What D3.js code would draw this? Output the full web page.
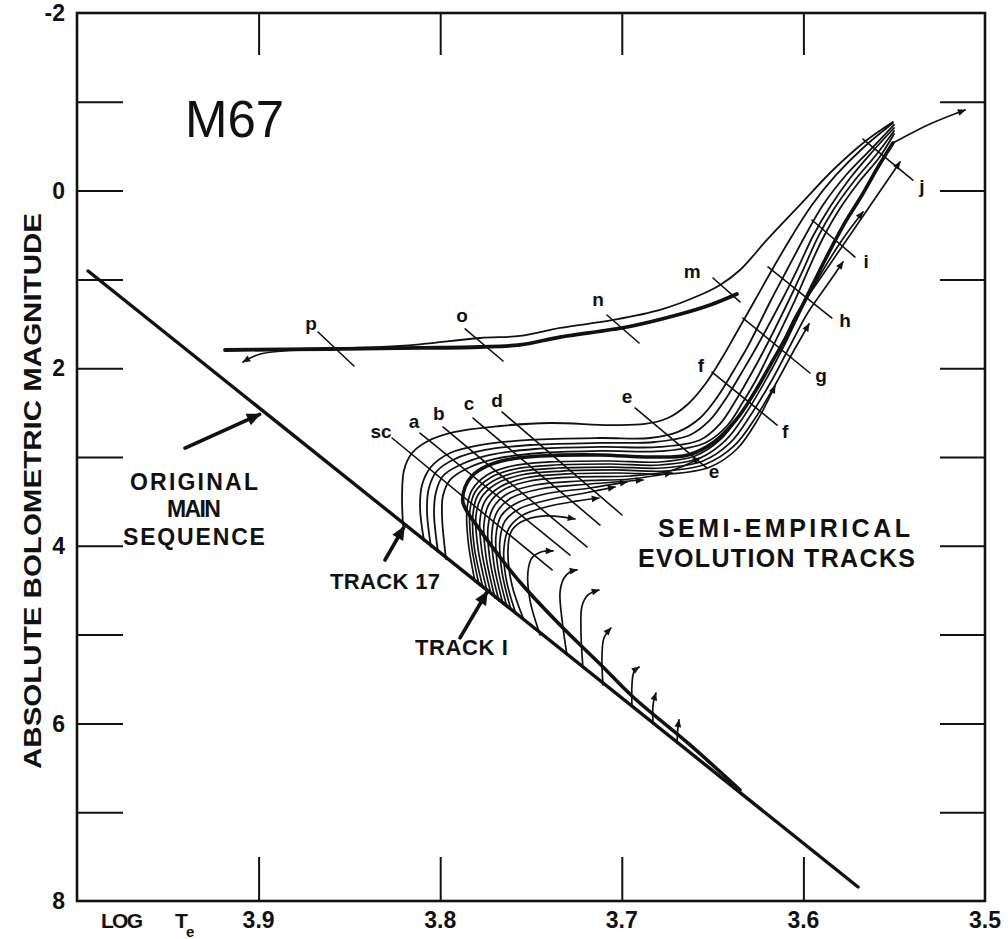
<!DOCTYPE html>
<html><head><meta charset="utf-8">
<script src="https://cdn.jsdelivr.net/npm/d3@7"></script>
<style>
body{margin:0;background:#fff}
text{font-family:"Liberation Sans",Arial,sans-serif;fill:#111}
</style>
</head><body>
<svg id="chart" width="1008" height="939"></svg>
<script>
// ---------- axis data ----------
const xDomain=[4.0,3.5];
const yDomain=[-2,8];
const xTickValues=[3.9,3.8,3.7,3.6];
const xTickLabels=["3.9","3.8","3.7","3.6","3.5"];
const xTickLabelValues=[3.9,3.8,3.7,3.6,3.5];
const yTickValues=[-1,0,1,2,3,4,5,6,7];
const yTickLabels=["-2","0","2","4","6","8"];
const yTickLabelValues=[-2,0,2,4,6,8];

// ---------- curves [log Te, Mbol] ----------
const zams=[[3.9939,0.905],[3.5699,7.842]];
const hbThick=[[3.9185,1.795],[3.8607,1.784],[3.8111,1.772],[3.7781,1.761],[3.7561,1.738],[3.7340,1.649],[3.6971,1.536],[3.6696,1.401],[3.6514,1.288],[3.6366,1.164]];
const mCurve=[[3.8772,1.784],[3.8221,1.750],[3.7781,1.660],[3.7561,1.637],[3.7340,1.547],[3.7048,1.457],[3.6790,1.344],[3.6569,1.176],[3.6459,1.063],[3.6349,0.894],[3.6201,0.556],[3.6019,0.162],[3.5837,-0.232],[3.5650,-0.570],[3.5507,-0.773]];
const pArrow=[[3.8740,1.795],[3.8990,1.840],[3.9086,1.930]];
const track1=[[3.6349,6.750],[3.6624,6.243],[3.6938,5.703],[3.7120,5.331],[3.7340,4.892],[3.7561,4.408],[3.7671,4.126],[3.7781,3.822],[3.7874,3.518],[3.7863,3.338],[3.7825,3.214],[3.7742,3.101],[3.7638,3.034],[3.7450,2.989],[3.7120,2.977],[3.6845,3.000],[3.6635,2.977],[3.6492,2.831],[3.6371,2.583],[3.6261,2.245],[3.6167,1.908],[3.6079,1.592],[3.5980,1.187],[3.5881,0.781],[3.5782,0.399],[3.5677,0.050],[3.5589,-0.266],[3.5507,-0.536]];
const track1Ext=[[3.5507,-0.536],[3.5303,-0.750],[3.5110,-0.908]];
const trackSC=[[3.8205,3.766],[3.8210,3.428],[3.8199,3.146],[3.8155,2.955],[3.8067,2.820],[3.7919,2.718],[3.7671,2.651],[3.7395,2.617],[3.7065,2.640],[3.6872,2.628],[3.6746,2.561],[3.6635,2.403],[3.6536,2.167],[3.6448,1.885],[3.6360,1.570],[3.6266,1.232],[3.6167,0.872],[3.6063,0.511],[3.5953,0.162],[3.5820,-0.176],[3.5672,-0.480],[3.5507,-0.761]];
const trackU2=[[3.8089,3.946],[3.8111,3.574],[3.8100,3.315],[3.8051,3.113],[3.7946,2.955],[3.7781,2.865],[3.7506,2.808],[3.7120,2.786],[3.6845,2.786],[3.6691,2.718],[3.6569,2.561],[3.6470,2.313],[3.6382,2.020],[3.6305,1.750],[3.6178,1.232],[3.6085,0.872],[3.5991,0.511],[3.5892,0.162],[3.5765,-0.176],[3.5633,-0.457],[3.5501,-0.739]];
const trackU3=[[3.8051,4.013],[3.8073,3.597],[3.8062,3.349],[3.8018,3.158],[3.7919,3.022],[3.7753,2.921],[3.7506,2.865],[3.7120,2.842],[3.6817,2.831],[3.6624,2.752],[3.6514,2.583],[3.6421,2.324],[3.6338,2.043],[3.6261,1.773],[3.6118,1.232],[3.6030,0.872],[3.5947,0.511],[3.5854,0.185],[3.5738,-0.153],[3.5617,-0.446],[3.5501,-0.705]];
const trackU4=[[3.8012,4.070],[3.8034,3.631],[3.8023,3.394],[3.7985,3.214],[3.7891,3.090],[3.7726,2.977],[3.7478,2.910],[3.7120,2.887],[3.6790,2.887],[3.6569,2.809],[3.6459,2.628],[3.6371,2.358],[3.6294,2.088],[3.6222,1.818],[3.6079,1.232],[3.5997,0.872],[3.5920,0.523],[3.5832,0.207],[3.5716,-0.119],[3.5600,-0.401],[3.5501,-0.671]];
const trackU5=[[3.7968,4.149],[3.7990,3.664],[3.7985,3.439],[3.7946,3.259],[3.7858,3.135],[3.7698,3.022],[3.7450,2.955],[3.7120,2.932],[3.6762,2.932],[3.6542,2.842],[3.6421,2.651],[3.6333,2.381],[3.6261,2.133],[3.6189,1.840],[3.6046,1.232],[3.5969,0.872],[3.5892,0.534],[3.5804,0.218],[3.5694,-0.097],[3.5584,-0.367],[3.5501,-0.637]];
const trackL1=[[3.7808,4.408],[3.7847,3.935],[3.7852,3.574],[3.7825,3.372],[3.7742,3.203],[3.7605,3.101],[3.7395,3.056],[3.7065,3.045],[3.6790,3.056],[3.6597,2.989],[3.6459,2.808],[3.6338,2.493],[3.6228,2.133],[3.6129,1.772],[3.6035,1.378],[3.5898,0.962],[3.5743,0.500],[3.5600,0.072],[3.5468,-0.322]];
const trackL2=[[3.7786,4.441],[3.7830,3.957],[3.7836,3.597],[3.7808,3.394],[3.7726,3.236],[3.7588,3.135],[3.7368,3.090],[3.7065,3.079],[3.6790,3.090],[3.6569,3.011],[3.6426,2.808],[3.6305,2.471],[3.6195,2.088],[3.6096,1.705],[3.6002,1.300],[3.5898,0.917],[3.5787,0.556],[3.5672,0.241]];
const trackL3=[[3.7764,4.475],[3.7814,3.991],[3.7819,3.631],[3.7792,3.428],[3.7709,3.270],[3.7572,3.169],[3.7351,3.124],[3.7054,3.113],[3.6779,3.124],[3.6553,3.045],[3.6404,2.842],[3.6283,2.504],[3.6173,2.133],[3.6074,1.750],[3.5980,1.390],[3.5881,1.097],[3.5782,0.804]];
const trackL4=[[3.7742,4.509],[3.7792,4.025],[3.7803,3.664],[3.7775,3.462],[3.7693,3.304],[3.7555,3.203],[3.7329,3.158],[3.7037,3.146],[3.6762,3.158],[3.6536,3.079],[3.6382,2.876],[3.6261,2.549],[3.6156,2.189],[3.6063,1.840],[3.5969,1.502]];
const trackL5=[[3.7720,4.543],[3.7770,4.070],[3.7781,3.709],[3.7753,3.495],[3.7671,3.338],[3.7533,3.236],[3.7307,3.191],[3.7010,3.180],[3.6735,3.191],[3.6514,3.113],[3.6366,2.910],[3.6256,2.594],[3.6156,2.200]];
const trackL6=[[3.7698,4.588],[3.7748,4.115],[3.7759,3.754],[3.7731,3.529],[3.7654,3.372],[3.7506,3.270],[3.7258,3.225],[3.6955,3.214],[3.6735,3.158],[3.6569,3.011]];
const trackL7=[[3.7676,4.622],[3.7726,4.160],[3.7737,3.799],[3.7709,3.574],[3.7632,3.417],[3.7478,3.315],[3.7230,3.270],[3.6955,3.248],[3.6724,3.180]];
const trackL8=[[3.7654,4.655],[3.7704,4.205],[3.7715,3.844],[3.7687,3.619],[3.7610,3.462],[3.7450,3.360],[3.7175,3.304],[3.6883,3.259]];
const trackL9=[[3.7632,4.689],[3.7682,4.250],[3.7693,3.890],[3.7665,3.664],[3.7588,3.529],[3.7423,3.417],[3.7175,3.349],[3.6971,3.281]];
const trackL10=[[3.7610,4.723],[3.7660,4.295],[3.7671,3.935],[3.7643,3.721],[3.7566,3.585],[3.7406,3.484],[3.7203,3.405],[3.7037,3.338]];
const trackL11=[[3.7583,4.768],[3.7638,4.362],[3.7649,4.025],[3.7621,3.799],[3.7544,3.653],[3.7395,3.552],[3.7241,3.495],[3.7126,3.462]];
const trackL12=[[3.7539,4.835],[3.7605,4.441],[3.7627,4.070],[3.7610,3.844],[3.7555,3.732],[3.7423,3.664],[3.7258,3.698]];
const trackL13=[[3.7450,5.004],[3.7506,4.610],[3.7517,4.295],[3.7495,4.137],[3.7445,4.070],[3.7379,4.058]];
const trackL14=[[3.7302,5.230],[3.7329,4.835],[3.7340,4.520],[3.7318,4.362],[3.7285,4.295],[3.7247,4.272]];
const trackL15=[[3.7214,5.376],[3.7225,4.948],[3.7219,4.678],[3.7186,4.554],[3.7126,4.498]];
const trackL16=[[3.7104,5.567],[3.7109,5.230],[3.7098,5.038],[3.7060,4.926]];
const trackL17=[[3.6944,5.815],[3.6944,5.567],[3.6933,5.421],[3.6905,5.365]];
const trackL18=[[3.6828,6.007],[3.6828,5.793],[3.6812,5.658]];
const trackL19=[[3.6696,6.221],[3.6691,6.052],[3.6685,5.961]];

// ---------- labelled isochrone ticks ----------
const tickNames=["p","o","n","m","j","i","h","g","f","e","sc","a","b","c","d"];
const tickStart=[[3.8673,1.592],[3.7863,1.558],[3.7082,1.401],[3.6498,0.984],[3.5672,-0.581],[3.5953,0.331],[3.6195,0.860],[3.6333,1.435],[3.6503,2.043],[3.6927,2.448],[3.8265,2.786],[3.8111,2.730],[3.7985,2.662],[3.7819,2.561],[3.7660,2.493]];
const tickEnd=[[3.8475,1.975],[3.7654,1.919],[3.6905,1.716],[3.6349,1.254],[3.5397,-0.119],[3.5716,0.748],[3.5843,1.435],[3.5964,2.054],[3.6145,2.640],[3.6531,3.124],[3.7384,4.272],[3.7285,4.104],[3.7192,4.013],[3.7120,3.766],[3.6999,3.653]];
const letterText=["p","o","n","m","j","i","h","g","f","f","e","e","sc","a","b","c","d"];
const letterPos=[[3.8711,1.570],[3.7880,1.480],[3.7131,1.300],[3.6613,0.984],[3.5347,0.027],[3.5655,0.872],[3.5771,1.536],[3.5903,2.155],[3.6564,2.043],[3.6101,2.786],[3.6971,2.392],[3.6492,3.236],[3.8326,2.786],[3.8144,2.673],[3.8007,2.583],[3.7841,2.471],[3.7687,2.437]];

// ---------- annotations ----------
const noteLines=[["ORIGINAL",3.9356,3.372,128],["MAIN",3.9356,3.676,54],["SEQUENCE",3.9356,3.991,142]];
const noteArrows=[[[3.9405,2.90],[3.8994,2.52]],[[3.8304,4.160],[3.8199,3.788]],[[3.7891,5.036],[3.7742,4.520]]];
const noteText2=[["TRACK 17",3.8607,4.486,110,22],["TRACK I",3.8139,5.230,93,22],["SEMI-EMPIRICAL",3.6801,3.901,252,25],["EVOLUTION TRACKS",3.6911,4.239,277,25]];

// ---------- drawing ----------
const svg=d3.select("#chart");
const W=1008,H=939;
const x=d3.scaleLinear().domain(xDomain).range([77,985]);
const y=d3.scaleLinear().domain(yDomain).range([13,901]);
const ink="#111";

const defs=svg.append("defs");
defs.append("marker").attr("id","ah").attr("viewBox","0 -5 10 10").attr("refX",9).attr("refY",0)
  .attr("markerWidth",9).attr("markerHeight",8).attr("markerUnits","userSpaceOnUse").attr("orient","auto")
  .append("path").attr("d","M0,-4.2L10,0L0,4.2Z").attr("fill",ink);
defs.append("marker").attr("id","ahBig").attr("viewBox","0 -5 10 10").attr("refX",9).attr("refY",0)
  .attr("markerWidth",16).attr("markerHeight",14).attr("markerUnits","userSpaceOnUse").attr("orient","auto")
  .append("path").attr("d","M0,-4.5L10,0L0,4.5Z").attr("fill",ink);

svg.append("rect").attr("width",W).attr("height",H).attr("fill","#fff");

// axes (inner ticks) via d3 axes
const gL=svg.append("g").attr("transform","translate(77,0)")
  .call(d3.axisRight(y).tickValues(yTickValues).tickSize(46).tickFormat(""));
const gR=svg.append("g").attr("transform","translate(985,0)")
  .call(d3.axisLeft(y).tickValues(yTickValues).tickSize(45).tickFormat(""));
const gB=svg.append("g").attr("transform","translate(0,901)")
  .call(d3.axisTop(x).tickValues(xTickValues).tickSize(44).tickFormat(""));
const gT=svg.append("g").attr("transform","translate(0,13)")
  .call(d3.axisBottom(x).tickValues(xTickValues).tickSize(42).tickFormat(""));
[gL,gR,gB,gT].forEach(g=>{g.select(".domain").remove();g.selectAll(".tick line").attr("stroke",ink).attr("stroke-width",2);});

svg.append("rect").attr("x",x(4.0)).attr("y",y(-2)).attr("width",x(3.5)-x(4.0)).attr("height",y(8)-y(-2))
  .attr("fill","none").attr("stroke",ink).attr("stroke-width",2.6);

// tick labels
svg.append("g").selectAll("text").data(yTickLabelValues).join("text")
  .attr("x",65).attr("y",d=>y(d)).attr("dy","0.36em").attr("text-anchor","end")
  .attr("font-size",23).attr("font-weight","bold").text((d,i)=>yTickLabels[i]);
svg.append("g").selectAll("text").data(xTickLabelValues).join("text")
  .attr("x",d=>x(d)).attr("y",928).attr("text-anchor","middle")
  .attr("font-size",23).attr("font-weight","bold").text((d,i)=>xTickLabels[i]);
svg.append("text").attr("x",101).attr("y",928).attr("font-size",21).attr("font-weight","bold").attr("textLength",42).text("LOG");
svg.append("text").attr("x",175).attr("y",928).attr("font-size",21).attr("font-weight","bold").text("T");
svg.append("text").attr("x",186).attr("y",937).attr("font-size",15).attr("font-weight","bold").text("e");

// y axis title
svg.append("text").attr("transform","translate(33,491) rotate(-90)").attr("text-anchor","middle")
  .attr("dy","0.36em").attr("font-size",23).attr("font-weight","bold")
  .attr("textLength",556).attr("lengthAdjust","spacingAndGlyphs").text("ABSOLUTE BOLOMETRIC MAGNITUDE");

// title
svg.append("text").attr("x",185).attr("y",137).attr("font-size",51).text("M67");

const line=d3.line().x(d=>x(d[0])).y(d=>y(d[1])).curve(d3.curveCatmullRom.alpha(0.5));
const plot=svg.append("g").attr("fill","none").attr("stroke",ink).attr("stroke-linecap","round").attr("stroke-linejoin","round");

// main sequence
plot.append("path").attr("d",d3.line().x(d=>x(d[0])).y(d=>y(d[1]))(zams)).attr("stroke-width",3.4);

// thin tracks reaching the tip
[trackSC,trackU2,trackU3,trackU4,trackU5].forEach(t=>plot.append("path").attr("d",line(t)).attr("stroke-width",1.8));
// tracks ending with arrows
[trackL1,trackL2,trackL3,trackL4,trackL5,trackL6,trackL7,trackL8,trackL9,trackL10,trackL11,trackL12,trackL13,trackL14,trackL15,trackL16,trackL17,trackL18,trackL19]
  .forEach(t=>plot.append("path").attr("d",line(t)).attr("stroke-width",1.7).attr("marker-end","url(#ah)"));
// thick track
plot.append("path").attr("d",line(track1)).attr("stroke-width",3.6);
plot.append("path").attr("d",line(track1Ext)).attr("stroke-width",1.7).attr("marker-end","url(#ah)");
// horizontal branch
plot.append("path").attr("d",line(mCurve)).attr("stroke-width",1.8);
plot.append("path").attr("d",line(hbThick)).attr("stroke-width",3.8);
plot.append("path").attr("d",line(pArrow)).attr("stroke-width",1.7).attr("marker-end","url(#ah)");

// labelled ticks
plot.append("g").selectAll("line").data(tickNames).join("line")
  .attr("x1",(d,i)=>x(tickStart[i][0])).attr("y1",(d,i)=>y(tickStart[i][1]))
  .attr("x2",(d,i)=>x(tickEnd[i][0])).attr("y2",(d,i)=>y(tickEnd[i][1]))
  .attr("stroke-width",1.6);
svg.append("g").selectAll("text").data(letterText).join("text")
  .attr("x",(d,i)=>x(letterPos[i][0])).attr("y",(d,i)=>y(letterPos[i][1]))
  .attr("text-anchor","middle").attr("font-size",19).attr("font-weight","bold").text(d=>d);

// annotations
svg.append("g").selectAll("text").data(noteLines).join("text")
  .attr("x",d=>x(d[1])-d[3]/2).attr("y",d=>y(d[2])).attr("textLength",d=>d[3]).attr("lengthAdjust","spacing")
  .attr("font-size",23).attr("font-weight","bold").text(d=>d[0]);
svg.append("g").selectAll("text").data(noteText2).join("text")
  .attr("x",d=>x(d[1])).attr("y",d=>y(d[2])).attr("textLength",d=>d[3]).attr("lengthAdjust","spacing")
  .attr("font-size",d=>d[4]).attr("font-weight","bold").text(d=>d[0]);
plot.append("g").selectAll("path").data(noteArrows).join("path")
  .attr("d",d=>d3.line().x(p=>x(p[0])).y(p=>y(p[1]))(d)).attr("stroke-width",3.6).attr("marker-end","url(#ahBig)");
</script>
</body></html>
